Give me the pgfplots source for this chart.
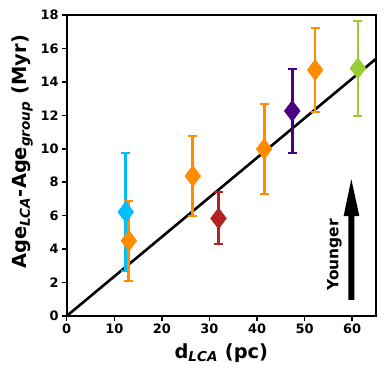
\documentclass[border=0pt]{standalone}
\usepackage{fontspec}
\setmainfont{DejaVu Sans}
\usepackage{pgfplots}
\pgfplotsset{compat=1.18}
\definecolor{cyanC}{HTML}{00BFFF}
\definecolor{orangeC}{HTML}{FF8C00}
\definecolor{redC}{HTML}{B22222}
\definecolor{purpleC}{HTML}{4B0082}
\definecolor{greenC}{HTML}{9ACD32}
\pgfplotsset{
  pt/.style={only marks, mark=diamond*, mark size=10.5bp,
    color=#1, mark options={fill=#1, draw=#1, line width=0.5bp},
    error bars/.cd, y dir=both, y explicit,
    error bar style={line width=2.8bp, color=#1},
    error mark options={rotate=90, mark size=4.5bp, line width=2bp, color=#1}}
}
\begin{document}
\begin{tikzpicture}
\begin{axis}[
  scale only axis, width=309.3bp, height=301bp,
  xmin=0, xmax=65, ymin=0, ymax=18,
  xtick={0,10,...,60}, ytick={0,2,...,18},
  xtick pos=bottom, ytick pos=left,
  tick align=outside, major tick length=4.5bp,
  tick style={line width=1.5bp, black},
  axis line style={line width=2bp},
  /pgf/number format/assume math mode=true,
  ticklabel style={font=\bfseries\fontsize{13}{15}\selectfont},
  label style={font=\bfseries\fontsize{19.5}{22}\selectfont},
  xlabel style={yshift=-3bp},
  ylabel style={at={(ticklabel cs:0.545)}, yshift=1bp},
  xlabel={d\textsubscript{\textit{LCA}} (pc)},
  ylabel={Age\textsubscript{\textit{LCA}}-Age\textsubscript{\textit{group}} (Myr)},
  clip=false,
]
\addplot[black, line width=2.6bp] coordinates {(0,0) (65,15.38)};
\addplot[pt=cyanC] coordinates {(12.4,6.22) +- (0,3.5)};
\addplot[pt=orangeC] coordinates {(13.06,4.5) +- (0,2.4)};
\addplot[pt=orangeC] coordinates {(26.5,8.37) +- (0,2.4)};
\addplot[pt=redC] coordinates {(31.9,5.84) +- (0,1.55)};
\addplot[pt=orangeC] coordinates {(41.5,9.99) +- (0,2.7)};
\addplot[pt=purpleC] coordinates {(47.4,12.26) +- (0,2.5)};
\addplot[pt=orangeC] coordinates {(52.2,14.71) +- (0,2.5)};
\addplot[pt=greenC] coordinates {(61.2,14.81) +- (0,2.85)};
\fill[black] (axis cs:59.18,0.96) -- (axis cs:60.44,0.96) -- (axis cs:60.44,5.98)
  -- (axis cs:61.5,5.98) -- (axis cs:59.81,8.18) -- (axis cs:58.2,5.98)
  -- (axis cs:59.18,5.98) -- cycle;
\node[rotate=90, font=\bfseries\fontsize{15.5}{18}\selectfont] at (axis cs:56.25,3.65) {Younger};
\end{axis}
\pgfresetboundingbox
\path (current axis.south west) ++(-66.7bp,-59bp) coordinate (bl);
\path (current axis.north east) ++(10bp,15bp) coordinate (tr);
\path (bl) rectangle (tr);
\end{tikzpicture}
\end{document}
